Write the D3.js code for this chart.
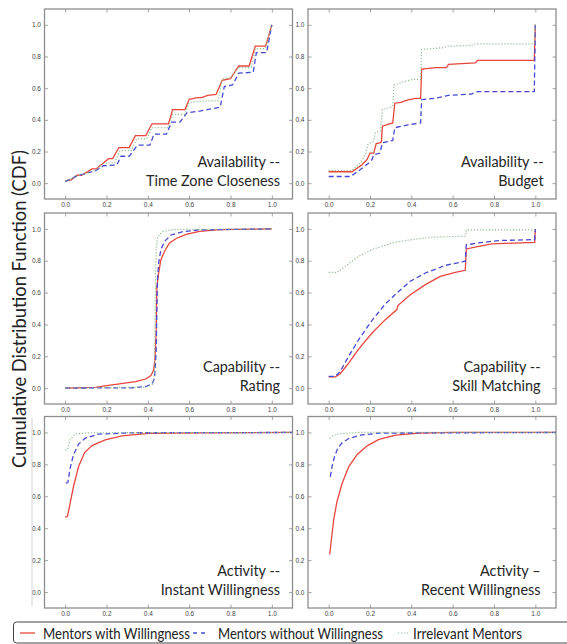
<!DOCTYPE html>
<html><head><meta charset="utf-8">
<script src="https://cdn.jsdelivr.net/npm/d3@7"></script>
<style>body{margin:0;background:#fff;}svg{display:block;}</style>
</head><body>
<svg id="chart" width="567" height="644"></svg>
<script>
// ---------- data ----------
const seriesNames = ["Mentors with Willingness", "Mentors without Willingness", "Irrelevant Mentors"];
const panelTitles = [
  ["Availability --", "Time Zone Closeness"],
  ["Availability --", "Budget"],
  ["Capability --", "Rating"],
  ["Capability --", "Skill Matching"],
  ["Activity --", "Instant Willingness"],
  ["Activity \u2013", "Recent Willingness"]
];
const tickValues = [0, 0.2, 0.4, 0.6, 0.8, 1.0];
const tickLabels = ["0.0", "0.2", "0.4", "0.6", "0.8", "1.0"];
const yAxisTitle = "Cumulative Distribution Function (CDF)";

// Panel 1: Time Zone Closeness
const tzWithX = [0,0.03,0.056,0.08,0.13,0.15,0.21,0.23,0.26,0.31,0.34,0.39,0.42,0.50,0.52,0.58,0.60,0.64,0.66,0.69,0.73,0.76,0.80,0.84,0.89,0.92,0.97,1.0];
const tzWithY = [0.015,0.02,0.05,0.05,0.09,0.09,0.155,0.155,0.225,0.225,0.30,0.30,0.375,0.375,0.465,0.465,0.53,0.54,0.54,0.555,0.56,0.65,0.66,0.74,0.74,0.865,0.865,1.0];
const tzWithoutX = [0,0.056,0.15,0.185,0.25,0.27,0.31,0.35,0.41,0.43,0.49,0.515,0.555,0.59,0.65,0.75,0.77,0.81,0.84,0.91,0.925,0.975,1.0];
const tzWithoutY = [0.01,0.045,0.08,0.11,0.115,0.17,0.17,0.24,0.24,0.31,0.31,0.385,0.385,0.445,0.455,0.48,0.61,0.62,0.695,0.70,0.825,0.825,1.0];
const tzIrrX = [0,0.056,0.145,0.185,0.24,0.265,0.32,0.346,0.395,0.42,0.50,0.52,0.58,0.60,0.67,0.74,0.76,0.80,0.84,0.90,0.92,0.97,1.0];
const tzIrrY = [0.013,0.045,0.078,0.125,0.13,0.205,0.205,0.28,0.28,0.35,0.35,0.435,0.435,0.51,0.52,0.52,0.66,0.665,0.73,0.73,0.85,0.85,1.0];

// Panel 2: Budget
const budWithX = [0,0.113,0.16,0.186,0.2,0.218,0.23,0.248,0.255,0.26,0.283,0.31,0.32,0.35,0.38,0.42,0.445,0.45,0.52,0.57,0.58,0.71,0.72,0.995,1.0];
const budWithY = [0.072,0.072,0.115,0.15,0.19,0.19,0.25,0.255,0.26,0.36,0.37,0.38,0.505,0.51,0.525,0.535,0.535,0.72,0.73,0.73,0.75,0.76,0.775,0.775,1.0];
const budWithoutX = [0,0.105,0.154,0.194,0.21,0.218,0.248,0.26,0.31,0.32,0.39,0.445,0.45,0.52,0.58,0.69,0.72,0.995,1.0];
const budWithoutY = [0.042,0.042,0.086,0.128,0.15,0.18,0.19,0.255,0.27,0.35,0.37,0.38,0.527,0.537,0.555,0.563,0.578,0.578,1.0];
const budIrrX = [0,0.113,0.154,0.18,0.19,0.218,0.226,0.25,0.26,0.29,0.31,0.316,0.35,0.405,0.445,0.45,0.55,0.58,0.69,0.71,0.995,1.0];
const budIrrY = [0.08,0.08,0.13,0.19,0.245,0.265,0.32,0.33,0.465,0.475,0.485,0.62,0.635,0.655,0.655,0.845,0.855,0.865,0.87,0.88,0.88,1.0];

// Panel 3: Rating
const ratWithX = [0,0.146,0.21,0.28,0.34,0.39,0.415,0.428,0.434,0.44,0.444,0.452,0.463,0.48,0.504,0.537,0.585,0.65,0.748,1.0];
const ratWithY = [0,0.004,0.017,0.03,0.04,0.057,0.078,0.113,0.176,0.344,0.637,0.72,0.805,0.857,0.91,0.94,0.966,0.985,0.996,1.0];
const ratWithoutX = [0,0.325,0.39,0.42,0.432,0.44,0.446,0.452,0.463,0.48,0.512,0.57,0.65,1.0];
const ratWithoutY = [0,0.002,0.01,0.025,0.06,0.218,0.658,0.784,0.868,0.92,0.962,0.983,0.994,1.0];
const ratIrrX = [0,0.39,0.423,0.432,0.436,0.44,0.447,0.472,0.52,1.0];
const ratIrrY = [0,0.006,0.023,0.092,0.553,0.868,0.952,0.983,0.996,1.0];

// Panel 4: Skill Matching
const skWithX = [0,0.032,0.056,0.097,0.145,0.21,0.274,0.33,0.335,0.395,0.468,0.54,0.613,0.661,0.666,0.726,0.79,0.997,1.0];
const skWithY = [0.07,0.07,0.09,0.157,0.245,0.346,0.43,0.493,0.518,0.587,0.65,0.702,0.727,0.74,0.874,0.89,0.906,0.916,1.0];
const skWithoutX = [0,0.032,0.056,0.097,0.145,0.21,0.274,0.33,0.395,0.468,0.565,0.661,0.666,0.726,0.823,0.997,1.0];
const skWithoutY = [0.073,0.073,0.105,0.2,0.304,0.426,0.528,0.597,0.671,0.723,0.771,0.797,0.90,0.912,0.927,0.933,1.0];
const skIrrX = [0,0.04,0.08,0.145,0.21,0.306,0.403,0.5,0.661,0.666,0.997,1.0];
const skIrrY = [0.727,0.727,0.765,0.828,0.87,0.912,0.933,0.948,0.954,0.994,0.994,1.0];

// Panel 5: Instant Willingness
const inWithX = [0,0.011,0.024,0.04,0.065,0.094,0.13,0.194,0.275,0.405,0.647,1.1];
const inWithY = [0.469,0.473,0.556,0.66,0.787,0.874,0.918,0.954,0.979,0.994,0.998,1.0];
const inWithoutX = [0.003,0.013,0.024,0.04,0.065,0.097,0.162,0.324,1.1];
const inWithoutY = [0.682,0.686,0.776,0.86,0.927,0.964,0.99,0.998,1.0];
const inIrrX = [0,0.011,0.024,0.049,0.113,1.1];
const inIrrY = [0.891,0.891,0.954,0.99,0.998,1.0];

// Panel 6: Recent Willingness
const reWithX = [0.005,0.013,0.024,0.04,0.065,0.097,0.138,0.186,0.243,0.324,0.437,0.6,1.1];
const reWithY = [0.236,0.326,0.45,0.566,0.68,0.785,0.862,0.916,0.956,0.983,0.996,1.0,1.0];
const reWithoutX = [0.008,0.016,0.028,0.044,0.065,0.097,0.154,0.243,1.1];
const reWithoutY = [0.722,0.785,0.847,0.9,0.935,0.962,0.983,0.996,1.0];
const reIrrX = [0.005,0.024,0.065,0.146,1.1];
const reIrrY = [0.962,0.983,0.994,1.0,1.0];

const panelSeries = [
  [[tzWithX, tzWithY], [tzWithoutX, tzWithoutY], [tzIrrX, tzIrrY]],
  [[budWithX, budWithY], [budWithoutX, budWithoutY], [budIrrX, budIrrY]],
  [[ratWithX, ratWithY], [ratWithoutX, ratWithoutY], [ratIrrX, ratIrrY]],
  [[skWithX, skWithY], [skWithoutX, skWithoutY], [skIrrX, skIrrY]],
  [[inWithX, inWithY], [inWithoutX, inWithoutY], [inIrrX, inIrrY]],
  [[reWithX, reWithY], [reWithoutX, reWithoutY], [reIrrX, reIrrY]]
];

// ---------- style / layout ----------
const colors = ["#e8463c", "#4848d4", "#8cc08c"];
const dashes = [null, "5,3", "1.2,1.8"];
const widths = [1.3, 1.3, 1.2];
const colX = [[44.5, 292.5], [308, 556]];
const rowY = [[9, 199], [213, 404], [416.5, 608]];
const annotRight = [1.04, 1.04, 1.04, 1.025, 1.04, 1.025];
const frameColor = "#8e8e8e";
const tickFont = "Liberation Sans, Arial, sans-serif";
const textFont = "Lato, 'Open Sans', sans-serif";
const condense = 0.93; // narrow the humanist font toward the original's proportions

const svg = d3.select("#chart");

function fitText(sel, factor) {
  sel.each(function () {
    const w = this.getComputedTextLength();
    d3.select(this).attr("textLength", w * factor).attr("lengthAdjust", "spacingAndGlyphs");
  });
}

panelSeries.forEach((series, i) => {
  const c = i % 2, r = Math.floor(i / 2);
  const x = d3.scaleLinear().domain([-0.1, 1.1]).range(colX[c]);
  const y = d3.scaleLinear().domain([-0.1, 1.1]).range([rowY[r][1], rowY[r][0]]);
  const g = svg.append("g");

  const clipId = "clip" + i;
  g.append("clipPath").attr("id", clipId).append("rect")
    .attr("x", colX[c][0]).attr("y", rowY[r][0])
    .attr("width", colX[c][1] - colX[c][0]).attr("height", rowY[r][1] - rowY[r][0]);

  const fmt = (d) => tickLabels[tickValues.indexOf(d)];
  const axB = g.append("g").attr("transform", `translate(0,${rowY[r][1]})`)
    .call(d3.axisBottom(x).tickValues(tickValues).tickFormat(fmt).tickSizeInner(-3.5).tickSizeOuter(0).tickPadding(3));
  const axT = g.append("g").attr("transform", `translate(0,${rowY[r][0]})`)
    .call(d3.axisTop(x).tickValues(tickValues).tickFormat("").tickSizeInner(-3.5).tickSizeOuter(0));
  const axL = g.append("g").attr("transform", `translate(${colX[c][0]},0)`)
    .call(d3.axisLeft(y).tickValues(tickValues).tickFormat(fmt).tickSizeInner(-3.5).tickSizeOuter(0).tickPadding(3.5));
  const axR = g.append("g").attr("transform", `translate(${colX[c][1]},0)`)
    .call(d3.axisRight(y).tickValues(tickValues).tickFormat("").tickSizeInner(-3.5).tickSizeOuter(0));
  [axB, axT, axL, axR].forEach(a => {
    a.select(".domain").remove();
    a.selectAll(".tick line").attr("stroke", frameColor).attr("stroke-width", 0.8);
    a.selectAll(".tick text").attr("fill", "#444").attr("font-size", "6.5px").attr("font-family", tickFont);
  });

  const line = d3.line().x(d => x(d[0])).y(d => y(d[1]));
  series.forEach((s, k) => {
    const pts = s[0].map((v, j) => [v, s[1][j]]);
    g.append("path").datum(pts)
      .attr("clip-path", `url(#${clipId})`)
      .attr("d", line).attr("fill", "none")
      .attr("stroke", colors[k]).attr("stroke-width", widths[k])
      .attr("stroke-dasharray", dashes[k]);
  });

  g.append("rect").attr("x", colX[c][0]).attr("y", rowY[r][0])
    .attr("width", colX[c][1] - colX[c][0]).attr("height", rowY[r][1] - rowY[r][0])
    .attr("fill", "none").attr("stroke", frameColor).attr("stroke-width", 1.3);

  const base2 = y(0) + 3;
  [0, 1].forEach(li => {
    const t = g.append("text").attr("text-anchor", "end").attr("font-family", textFont)
      .attr("font-size", "15.5px").attr("fill", "#262626")
      .attr("x", x(annotRight[i])).attr("y", li === 0 ? base2 - 19 : base2)
      .text(panelTitles[i][li]);
    fitText(t, condense);
  });
});

// stray composite border line
svg.append("line").attr("x1", 32).attr("x2", 32).attr("y1", 418).attr("y2", 606)
  .attr("stroke", "#c8c8c8").attr("stroke-width", 0.8);

// y-axis title
svg.append("text").attr("transform", "translate(26,309) rotate(-90)")
  .attr("text-anchor", "middle").attr("font-family", textFont).attr("font-size", "20px")
  .attr("fill", "#222").attr("textLength", 318).attr("lengthAdjust", "spacingAndGlyphs")
  .text(yAxisTitle);

// legend
const lg = svg.append("g");
lg.append("rect").attr("x", 13.5).attr("y", 622).attr("width", 570).attr("height", 21)
  .attr("rx", 3).attr("fill", "#fff").attr("stroke", "#444").attr("stroke-width", 1);
const legX = [20, 193, 398];
const legLen = [15, 15, 10];
const legTextX = [43, 218, 413];
const legTextW = [147, 165, 109];
seriesNames.forEach((n, k) => {
  lg.append("line").attr("x1", legX[k]).attr("x2", legX[k] + legLen[k]).attr("y1", 633).attr("y2", 633)
    .attr("stroke", colors[k]).attr("stroke-width", widths[k]).attr("stroke-dasharray", k === 1 ? "4,4" : dashes[k]);
  lg.append("text").attr("x", legTextX[k]).attr("y", 638.5).attr("font-family", textFont)
    .attr("font-size", "15px").attr("fill", "#222")
    .attr("textLength", legTextW[k]).attr("lengthAdjust", "spacingAndGlyphs").text(n);
});
</script>
</body></html>
